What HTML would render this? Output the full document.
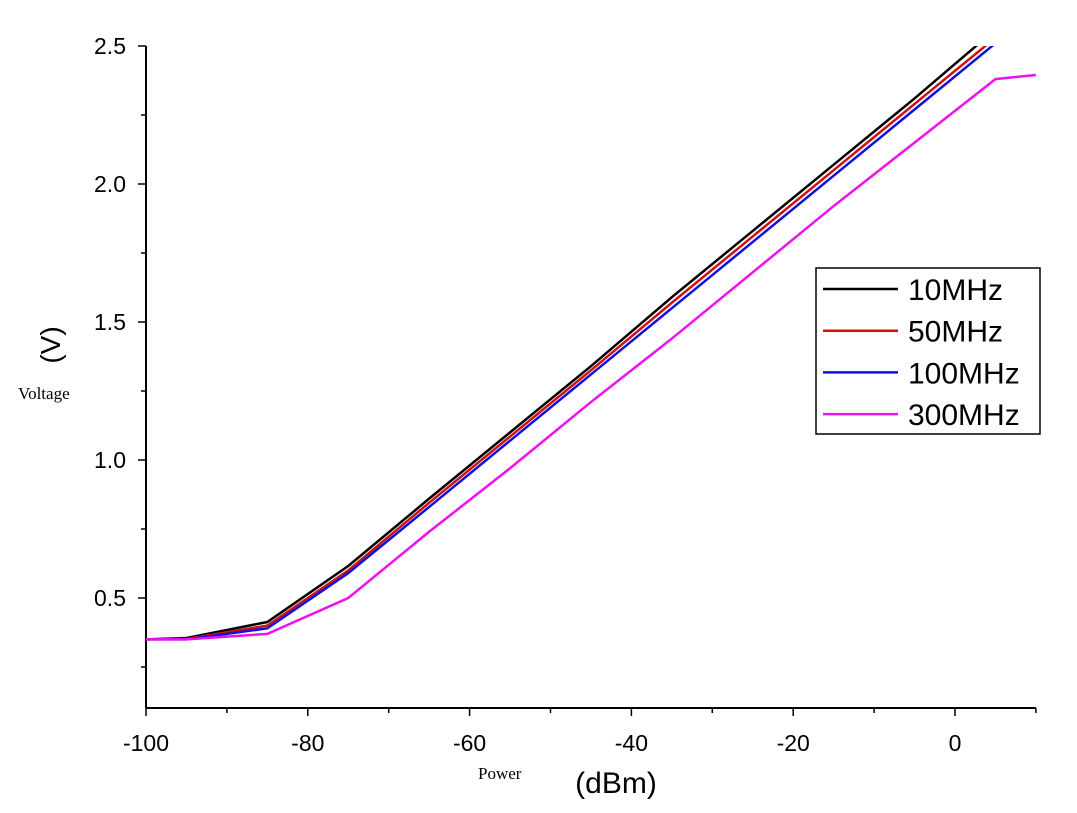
<!DOCTYPE html>
<html><head><meta charset="utf-8"><style>
body{margin:0;background:#fff;}
svg text{font-family:"Liberation Sans",Arial,sans-serif;}
</style></head><body>
<svg id="chart" width="1077" height="808" xmlns="http://www.w3.org/2000/svg">
<defs><clipPath id="plotclip"><rect x="146" y="46" width="890" height="662"/></clipPath></defs>
<g id="axes"></g>
<g id="series" clip-path="url(#plotclip)"></g>
<text x="60" y="345" font-size="28" text-anchor="middle" transform="rotate(-90 60 345)">(V)</text>
<text x="18" y="399" font-size="17" style="font-family:'Liberation Serif',serif">Voltage</text>
<text x="478" y="779" font-size="17" style="font-family:'Liberation Serif',serif">Power</text>
<text x="616" y="793" font-size="30" text-anchor="middle">(dBm)</text>
<g>
<rect x="816" y="268" width="224" height="166" fill="#fff" stroke="#000" stroke-width="1.5"/>
<g id="legend-items"></g>
</g>
</svg>
<script>
const xValues=[-100,-95,-85,-75,-65,-55,-45,-35,-25,-15,-5,5,10];
const s10=[0.35,0.355,0.413,0.616,0.86,1.10,1.34,1.59,1.83,2.07,2.31,2.56,2.68];
const s50=[0.35,0.352,0.40,0.60,0.845,1.085,1.325,1.57,1.81,2.05,2.29,2.53,2.65];
const s100=[0.35,0.35,0.39,0.59,0.83,1.07,1.31,1.55,1.79,2.03,2.27,2.51,2.63];
const s300=[0.35,0.35,0.37,0.50,0.74,0.97,1.21,1.44,1.68,1.92,2.15,2.38,2.395];
const seriesNames=["10MHz","50MHz","100MHz","300MHz"];
const seriesColors=["#000000","#d01010","#1010e0","#ee10ee"];
const xTicks=[-100,-80,-60,-40,-20,0];
const yTicks=[0.5,1.0,1.5,2.0,2.5];
const NS="http://www.w3.org/2000/svg";
function xs(v){return 146+(v+100)*8.09;}
function ys(v){return 46+(2.5-v)*276;}
function mk(tag,attrs,parent){const e=document.createElementNS(NS,tag);for(const k in attrs)e.setAttribute(k,attrs[k]);parent.appendChild(e);return e;}
const axes=document.getElementById('axes');
let l=mk('line',{x1:146,y1:46,x2:146,y2:708,stroke:'#000','stroke-width':2},axes);


l=mk('line',{x1:146,y1:708,x2:1036,y2:708,stroke:'#000','stroke-width':2},axes);


for(let v=-100;v<=10;v+=10){
  const major=xTicks.includes(v);
  const t=mk('line',{x1:xs(v),y1:708,x2:xs(v),y2:708+(major?8:5),stroke:'#000','stroke-width':1.5},axes);
  
  
}
xTicks.forEach(v=>{
  const t=mk('text',{x:xs(v),y:751,'font-size':23,'text-anchor':'middle'},axes);
  t.textContent=String(v);
  
  
});
for(let v=0.25;v<=2.5001;v+=0.25){
  const major=Math.abs(v*2-Math.round(v*2))<1e-6;
  const t=mk('line',{x1:146-(major?8:5),y1:ys(v),x2:146,y2:ys(v),stroke:'#000','stroke-width':1.5},axes);
  
  
}
yTicks.forEach(v=>{
  const t=mk('text',{x:126,y:ys(v)+8,'font-size':23,'text-anchor':'end'},axes);
  t.textContent=v.toFixed(1);
  
  
});
const series=document.getElementById('series');
[s10,s50,s100,s300].forEach((arr,i)=>{
  const p=mk('polyline',{points:arr.map((v,j)=>xs(xValues[j])+','+ys(v)).join(' '),fill:'none',stroke:seriesColors[i],'stroke-width':2.5},series);
  
  
});
const leg=document.getElementById('legend-items');
seriesNames.forEach((n,i)=>{
  const y=289+i*41.7;
  const ln=mk('line',{x1:823,y1:y,x2:898,y2:y,stroke:seriesColors[i],'stroke-width':2.5},leg);
  
  
  const t=mk('text',{x:908,y:y+11,'font-size':30},leg);
  t.textContent=n;
  
  
});
</script>
</body></html>
